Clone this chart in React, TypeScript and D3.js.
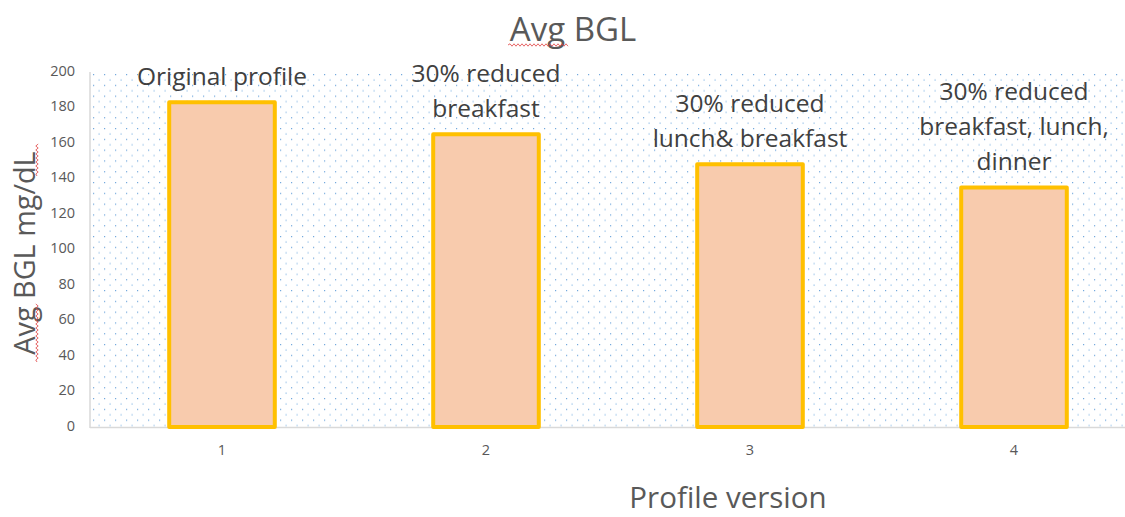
import React from "react";
import * as d3 from "d3";

const categories = ["1", "2", "3", "4"];
const values = [183, 165, 148, 135];
const barLabels = [
  ["Original profile"],
  ["30% reduced", "breakfast"],
  ["30% reduced", "lunch& breakfast"],
  ["30% reduced", "breakfast, lunch,", "dinner"],
];
const yTicks = [0, 20, 40, 60, 80, 100, 120, 140, 160, 180, 200];

const W = 1125;
const H = 517;
const FONT = "'Open Sans', 'Noto Sans', sans-serif";

function wavy(x0: number, x1: number, y0: number) {
  let d = `M${x0},${y0}`;
  let up = true;
  for (let xx = x0 + 2; xx <= x1; xx += 2) {
    d += ` L${xx},${y0 + (up ? -1.2 : 1.2)}`;
    up = !up;
  }
  return d;
}

export default function App() {
  const x = d3.scaleBand<string>().domain(categories).range([90, 1146]).paddingInner(0.6).paddingOuter(0.3);
  const y = d3.scaleLinear().domain([0, 200]).range([427, 72]);
  const lineH = 35;

  return (
    <svg width={W} height={H} style={{ position: "absolute", left: 0, top: 0, background: "#fff" }}>
      <defs>
        <pattern id="dots" width={11} height={10.8} patternUnits="userSpaceOnUse" x={92} y={73}>
          <rect x={1} y={1} width={1.2} height={1.2} fill="#6fa6dc" />
          <rect x={6.5} y={6.4} width={1.2} height={1.2} fill="#8dbbe6" />
        </pattern>
      </defs>
      <rect x={91} y={72} width={W - 91} height={355} fill="url(#dots)" />

      {/* axes */}
      <line x1={90} x2={90} y1={72} y2={428} stroke="#d9d9d9" strokeWidth={1.5} />
      <line x1={90} x2={W} y1={427.5} y2={427.5} stroke="#d9d9d9" strokeWidth={1.5} />

      {yTicks.map((t) => (
        <text key={t} x={75} y={y(t)} textAnchor="end" dominantBaseline="middle" fontFamily={FONT} fontSize={14.5} fill="#595959">
          {t}
        </text>
      ))}
      {categories.map((c) => (
        <text key={c} x={(x(c) as number) + x.bandwidth() / 2} y={451} textAnchor="middle" dominantBaseline="middle" fontFamily={FONT} fontSize={14.5} fill="#595959">
          {c}
        </text>
      ))}

      {/* bars */}
      {categories.map((c, i) => (
        <rect
          key={c}
          x={x(c) as number}
          y={y(values[i])}
          width={x.bandwidth()}
          height={y(0) - y(values[i])}
          fill="#f8cbad"
          stroke="#ffc000"
          strokeWidth={4}
          strokeLinejoin="round"
        />
      ))}

      {/* bar labels */}
      {categories.map((c, i) => {
        const lines = barLabels[i];
        const cx = (x(c) as number) + x.bandwidth() / 2;
        const lastY = y(values[i]) - 24;
        return (
          <g key={c}>
            {lines.map((l, j) => (
              <text
                key={j}
                x={cx}
                y={lastY - (lines.length - 1 - j) * lineH}
                textAnchor="middle"
                dominantBaseline="middle"
                fontFamily={FONT}
                fontSize={24.5}
                fill="#404040"
              >
                {l}
              </text>
            ))}
          </g>
        );
      })}

      {/* title */}
      <text x={573} y={32} textAnchor="middle" dominantBaseline="middle" fontFamily={FONT} fontSize={33} fill="#595959">
        Avg BGL
      </text>
      <path d={wavy(508, 568, 45)} fill="none" stroke="#e04040" strokeWidth={0.8} />
      {/* y label */}
      <text
        transform={`translate(27,253) rotate(-90)`}
        textAnchor="middle"
        dominantBaseline="middle"
        fontFamily={FONT}
        fontSize={28.8}
        fill="#595959"
      >
        Avg BGL mg/dL
      </text>
      <path d={wavy(-362, -304, 37)} transform="rotate(-90)" fill="none" stroke="#e04040" strokeWidth={0.8} />
      <path d={wavy(-176, -144, 37)} transform="rotate(-90)" fill="none" stroke="#e04040" strokeWidth={0.8} />
      {/* x label */}
      <text x={728} y={500} textAnchor="middle" dominantBaseline="middle" fontFamily={FONT} fontSize={29.5} fill="#595959">
        Profile version
      </text>
    </svg>
  );
}
